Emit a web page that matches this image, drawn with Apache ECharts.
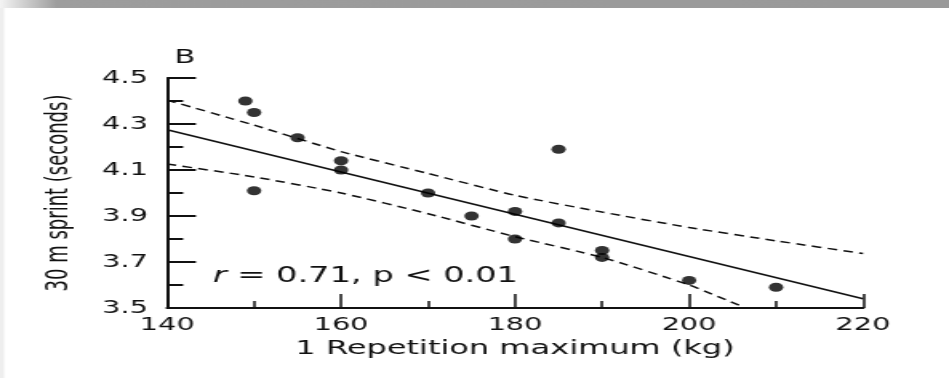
<!DOCTYPE html>
<html>
<head>
<meta charset="utf-8">
<script src="https://cdn.jsdelivr.net/npm/echarts@6/dist/echarts.min.js"></script>
<style>
  html, body { margin: 0; padding: 0; background: #fff; overflow: hidden; }
  /* the source figure is stretched sideways, so the chart is drawn narrow and scaled */
  #sprintChart { width: 593px; height: 378px; transform: scaleX(1.6003); transform-origin: 0 0; }
</style>
</head>
<body>
<div id="sprintChart"></div>
<script>
// athletes: 1RM (kg) vs 30 m sprint time (s)
var rmKg      = [149, 150, 150, 155, 160, 160, 170, 175, 180, 180, 185, 185, 190, 190, 200, 210];
var sprintSec = [4.40, 4.35, 4.01, 4.24, 4.14, 4.10, 4.00, 3.90, 3.92, 3.80, 4.19, 3.87, 3.75, 3.72, 3.62, 3.59];

// regression line
var fitX = [140, 220];
var fitY = [4.275, 3.54];

// confidence band (dashed)
var upperX = [140, 150, 160, 170, 180, 190, 200, 210, 220];
var upperY = [4.404, 4.295, 4.18, 4.085, 3.99, 3.917, 3.85, 3.792, 3.737];
var lowerX = [140, 150, 160, 170, 180, 190, 200, 206.5];
var lowerY = [4.126, 4.07, 4.00, 3.91, 3.81, 3.72, 3.60, 3.50];

var xTicks = { min: 140, max: 220, step: 20 };
var yTicks = { min: 3.5, max: 4.5, step: 0.2 };

function pairs(xs, ys) {
  return xs.map(function (x, i) { return [x, ys[i]]; });
}

var font = 'DejaVu Sans';
var ink = '#111';

var myChart = echarts.init(document.getElementById('sprintChart'));

var option = {
  animation: false,
  backgroundColor: '#fff',
  graphic: [
    {
      type: 'rect', left: 0, top: 0, z: 100,
      shape: { width: 593, height: 8 },
      style: {
        fill: new echarts.graphic.LinearGradient(0, 0, 1, 0, [
          { offset: 0, color: '#f4f4f4' },
          { offset: 0.06, color: '#9d9d9d' },
          { offset: 1, color: '#999' }
        ])
      }
    },
    {
      type: 'rect', left: 0, top: 8, z: 100,
      shape: { width: 2.5, height: 370 },
      style: { fill: '#eeeeee' }
    },
    {
      // y axis title, placed by hand (the axis name kept snapping next to the labels)
      type: 'text',
      x: 37, y: 193,
      rotation: Math.PI / 2,
      style: {
        text: '30 m sprint (seconds)',
        fontFamily: 'DejaVu Sans Condensed, DejaVu Sans',
        fontSize: 20,
        fill: ink,
        align: 'center',
        verticalAlign: 'middle'
      }
    }
  ],
  title: [
    {
      text: 'B',
      left: 104, top: 44,
      textStyle: { fontFamily: font, fontSize: 19, fontWeight: 'normal', color: ink }
    },
    {
      text: '{i|r} = 0.71, p < 0.01',
      left: 128, top: 261,
      textStyle: {
        fontFamily: font, fontSize: 21, fontWeight: 'normal', color: ink,
        rich: { i: { fontFamily: font, fontSize: 21, fontStyle: 'italic', color: ink } }
      }
    }
  ],
  grid: { left: 104.4, right: 53.7, top: 78, bottom: 70 },
  xAxis: {
    type: 'value',
    min: xTicks.min, max: xTicks.max, interval: xTicks.step,
    name: '1 Repetition maximum (kg)',
    nameLocation: 'middle',
    nameGap: 31,
    nameTextStyle: { fontFamily: font, fontSize: 20, color: ink },
    axisLine: { lineStyle: { color: ink, width: 2 } },
    axisTick: { inside: true, length: 14, lineStyle: { color: ink, width: 1.5 } },
    minorTick: { show: true, splitNumber: 2, length: 7, lineStyle: { color: ink, width: 1.5 } },
    axisLabel: { fontFamily: font, fontSize: 18, color: ink, margin: 8 },
    splitLine: { show: false }
  },
  yAxis: {
    type: 'value',
    min: yTicks.min, max: yTicks.max, interval: yTicks.step,
    axisLine: { show: true, lineStyle: { color: ink, width: 2 } },
    axisTick: { show: true, inside: true, length: 18, lineStyle: { color: ink, width: 2 } },
    minorTick: { show: true, splitNumber: 2, length: 10, lineStyle: { color: ink, width: 2 } },
    axisLabel: {
      fontFamily: font, fontSize: 18, color: ink, margin: 12,
      formatter: function (v) { return v.toFixed(1); }
    },
    splitLine: { show: false }
  },
  series: [
    {
      name: 'fit',
      type: 'line',
      data: pairs(fitX, fitY),
      showSymbol: false,
      lineStyle: { color: ink, width: 1.5 }
    },
    {
      name: 'upper',
      type: 'line',
      data: pairs(upperX, upperY),
      showSymbol: false,
      smooth: 0.2,
      lineStyle: { color: ink, width: 1.5, type: [6, 4] }
    },
    {
      name: 'lower',
      type: 'line',
      data: pairs(lowerX, lowerY),
      showSymbol: false,
      smooth: 0.2,
      lineStyle: { color: ink, width: 1.5, type: [6, 4] }
    },
    {
      name: 'athletes',
      type: 'scatter',
      data: pairs(rmKg, sprintSec),
      symbol: 'circle',
      symbolSize: 9,
      itemStyle: { color: '#000' },
      z: 5
    }
  ]
};

myChart.setOption(option);
</script>
</body>
</html>
